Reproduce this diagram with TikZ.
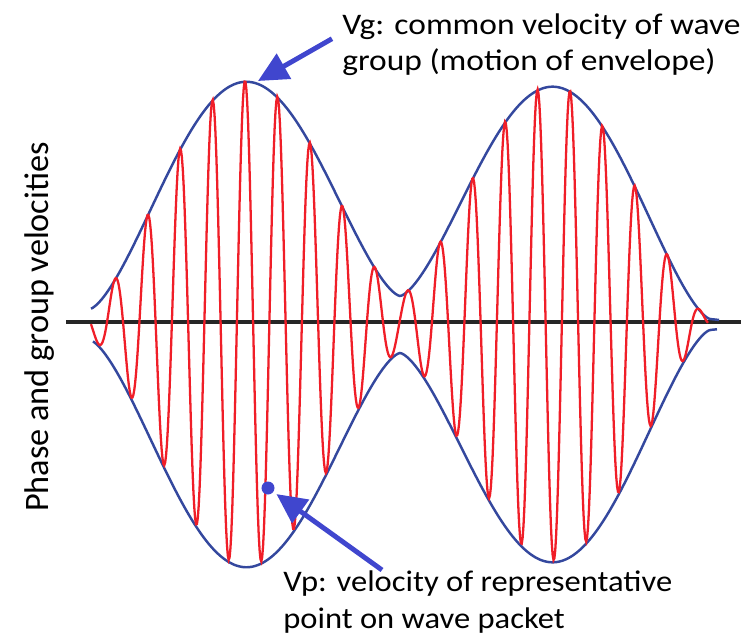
\documentclass[tikz,border=0pt]{standalone}
\usepackage{fontspec}
\setmainfont{Carlito}
\newfontfamily\widevg[FakeStretch=1.12]{Carlito}
\newfontfamily\widevp[FakeStretch=1.09]{Carlito}
\usetikzlibrary{arrows.meta,calc}
\definecolor{envblue}{RGB}{52,72,158}
\definecolor{wavered}{RGB}{240,30,40}
\definecolor{callblue}{RGB}{64,70,206}

\begin{document}
\begin{tikzpicture}[x=0.02cm,y=-0.02cm,
  declare function={sw(\t)=abs(sin((min(\t,710)-90)/310*180));
    env(\t)=217*sw(\t)*sqrt(sw(\t))+15-10*(\t-90)/620+18*sin((\t-90)/620*180);},
  envline/.style={envblue,line width=1.4pt},
  wave/.style={wavered,line width=1.3pt},
  callout/.style={callblue,line width=2.8pt,-{Triangle[length=17pt,width=16pt]}},
  lbl/.style={inner sep=0pt,align=left}]
\useasboundingbox (0,0) rectangle (752,636);
% axis
\coordinate (axl) at (66,322);
\coordinate (axr) at (741,322);
\draw[black!85,line width=1.8pt] (axl) -- (axr);
% envelope
\draw[envline] plot[domain=91:719,samples=300,smooth] (\x,{324-env(\x)});
\draw[envline] plot[domain=93:717,samples=300,smooth] (\x,{325+env(\x)});
% carrier
\draw[wave] plot[domain=91:708,samples=700] (\x,{323-env(\x)*cos((\x-245)/32.5*360)});
% labels
\node[lbl,rotate=90,font=\fontsize{19.5}{23}\selectfont] (ylab) at (40,327) {Phase and group velocities};
\node[lbl,anchor=north west,font=\widevg\fontsize{17}{21}\selectfont] (vgtext) at (342,13) {Vg: common velocity of wave\\group (motion of envelope)};
\node[lbl,anchor=north west,font=\widevp\fontsize{17}{21.5}\selectfont] (vptext) at (283,570) {Vp: velocity of representative\\point on wave packet};
\node[circle,fill=callblue,inner sep=0pt,minimum size=7.4pt] (vpdot) at (268,488) {};
\coordinate (vgtip) at (258,81);
% arrows
\draw[callout] ($(vgtext.west)+(-10,-6)$) -- (vgtip);
\draw[callout,shorten >=2pt] ($(vptext.north west)+(99,0)$) -- (vpdot);
\end{tikzpicture}
\end{document}
